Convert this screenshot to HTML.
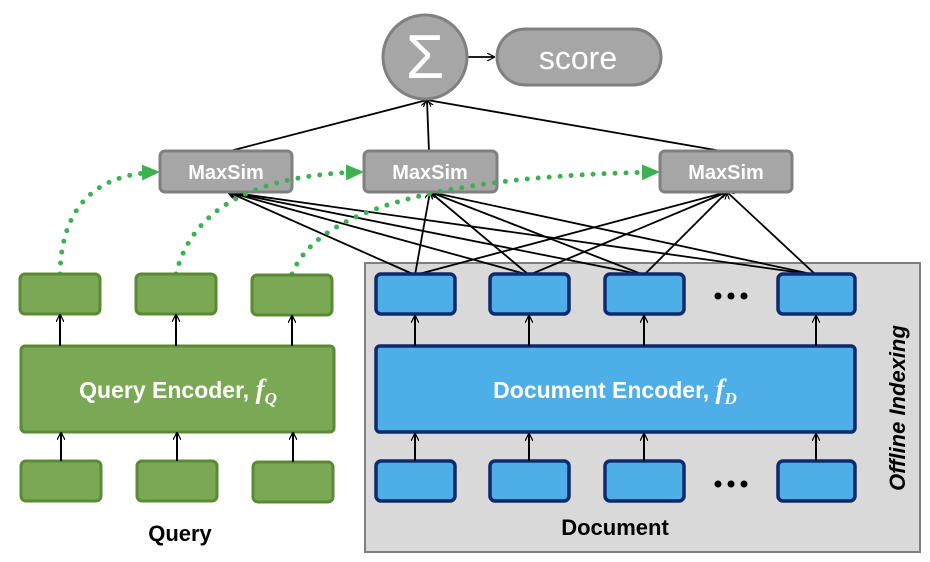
<!DOCTYPE html>
<html><head><meta charset="utf-8"><style>
body{margin:0;background:#fff;width:930px;height:562px;overflow:hidden}
svg{display:block}
text{font-family:"Liberation Sans",sans-serif}
</style></head><body>
<svg width="930" height="562" viewBox="0 0 930 562" xmlns="http://www.w3.org/2000/svg">
<defs>
<marker id="a" markerWidth="8" markerHeight="8" refX="7" refY="4" orient="auto" markerUnits="userSpaceOnUse"><path d="M0,0 L8,4 L0,8" fill="none" stroke="#000" stroke-width="1.2"/></marker>
<marker id="g" markerWidth="18" markerHeight="16" refX="16" refY="8" orient="auto" markerUnits="userSpaceOnUse"><path d="M0,0 L18,8 L0,16 Z" fill="#3db152"/></marker>
</defs>
<rect x="365" y="263" width="555" height="289" fill="#d9d9d9" stroke="#7f7f7f" stroke-width="2"/>
<text transform="translate(905,408) rotate(-90)" text-anchor="middle" font-size="22" font-weight="bold" font-style="italic" fill="#000">Offline Indexing</text>
<g stroke="#000" stroke-width="1.8" marker-end="url(#a)">
<line x1="415" y1="275" x2="228" y2="192"/><line x1="529" y1="275" x2="228" y2="192"/><line x1="644" y1="275" x2="228" y2="192"/><line x1="816" y1="275" x2="228" y2="192"/>
<line x1="415" y1="275" x2="430" y2="192"/><line x1="529" y1="275" x2="430" y2="192"/><line x1="644" y1="275" x2="430" y2="192"/><line x1="816" y1="275" x2="430" y2="192"/>
<line x1="415" y1="275" x2="727" y2="192"/><line x1="529" y1="275" x2="727" y2="192"/><line x1="644" y1="275" x2="727" y2="192"/><line x1="816" y1="275" x2="727" y2="192"/>
<line x1="226" y1="152" x2="427" y2="100"/><line x1="429" y1="152" x2="427" y2="100"/><line x1="727" y1="152" x2="427" y2="100"/>
<line x1="466" y1="57" x2="494" y2="57"/>
</g>
<circle cx="425" cy="57" r="42" fill="#a6a6a6" stroke="#808080" stroke-width="3"/>
<text x="425" y="78" text-anchor="middle" font-size="62" fill="#fff" font-family="Liberation Serif,serif">Σ</text>
<rect x="497" y="29" width="164" height="56" rx="28" fill="#a6a6a6" stroke="#808080" stroke-width="3"/>
<text x="578" y="69" text-anchor="middle" font-size="32" fill="#fff">score</text>
<g fill="#a6a6a6" stroke="#808080" stroke-width="3">
<rect x="160" y="151" width="132" height="41" rx="5"/><rect x="364" y="151" width="133" height="41" rx="5"/><rect x="660" y="151" width="132" height="41" rx="5"/></g>
<g font-size="20" font-weight="bold" fill="#fff" text-anchor="middle">
<text x="226" y="179">MaxSim</text><text x="430" y="179">MaxSim</text><text x="726" y="179">MaxSim</text></g>
<g fill="none" stroke="#3db152" stroke-width="5" stroke-linecap="round" stroke-dasharray="0 11" marker-end="url(#g)">
<path d="M60,274 Q62,175 158,172"/>
<path d="M176,274 Q200,176 362,172"/>
<path d="M292,274 Q330,178 658,172"/>
</g>
<g fill="#7ba854" stroke="#5b8a35" stroke-width="3">
<rect x="20" y="274" width="80" height="40" rx="5"/><rect x="136" y="274" width="80" height="40" rx="5"/><rect x="252" y="275" width="80" height="40" rx="5"/>
<rect x="21" y="346" width="313" height="86" rx="4"/>
<rect x="21" y="461" width="80" height="40" rx="5"/><rect x="137" y="461" width="80" height="40" rx="5"/><rect x="253" y="462" width="80" height="40" rx="5"/>
</g>
<text x="178" y="398" text-anchor="middle" font-size="23" font-weight="bold" fill="#fff">Query Encoder, <tspan font-family="Liberation Serif,serif" font-style="italic" font-size="27">f</tspan><tspan font-family="Liberation Serif,serif" font-style="italic" font-size="17" dy="6">Q</tspan></text>
<g fill="#4eaee8" stroke="#0f2a6b" stroke-width="3.5">
<rect x="376" y="274" width="79" height="40" rx="5"/><rect x="490" y="274" width="79" height="40" rx="5"/><rect x="605" y="274" width="79" height="40" rx="5"/><rect x="778" y="274" width="77" height="40" rx="5"/>
<rect x="376" y="346" width="479" height="86" rx="4"/>
<rect x="376" y="461" width="79" height="40" rx="5"/><rect x="490" y="461" width="79" height="40" rx="5"/><rect x="605" y="461" width="79" height="40" rx="5"/><rect x="778" y="461" width="77" height="40" rx="5"/>
</g>
<text x="615" y="398" text-anchor="middle" font-size="23" font-weight="bold" fill="#fff">Document Encoder, <tspan font-family="Liberation Serif,serif" font-style="italic" font-size="27">f</tspan><tspan font-family="Liberation Serif,serif" font-style="italic" font-size="17" dy="6">D</tspan></text>
<g fill="#000"><circle cx="718" cy="296" r="3.5"/><circle cx="731" cy="296" r="3.5"/><circle cx="744" cy="296" r="3.5"/>
<circle cx="718" cy="484" r="3.5"/><circle cx="731" cy="484" r="3.5"/><circle cx="744" cy="484" r="3.5"/></g>
<g stroke="#000" stroke-width="2" marker-end="url(#a)">
<line x1="60" y1="346" x2="60" y2="315"/><line x1="176" y1="346" x2="176" y2="315"/><line x1="292" y1="346" x2="292" y2="316"/>
<line x1="61" y1="461" x2="61" y2="433"/><line x1="177" y1="461" x2="177" y2="433"/><line x1="293" y1="462" x2="293" y2="433"/>
<line x1="415" y1="346" x2="415" y2="316"/><line x1="529" y1="346" x2="529" y2="316"/><line x1="644" y1="346" x2="644" y2="316"/><line x1="816" y1="346" x2="816" y2="316"/>
<line x1="415" y1="461" x2="415" y2="434"/><line x1="529" y1="461" x2="529" y2="434"/><line x1="644" y1="461" x2="644" y2="434"/><line x1="816" y1="461" x2="816" y2="434"/>
</g>
<text x="180" y="541" text-anchor="middle" font-size="22" font-weight="bold" fill="#000">Query</text>
<text x="615" y="535" text-anchor="middle" font-size="22" font-weight="bold" fill="#000">Document</text>
</svg>
</body></html>
